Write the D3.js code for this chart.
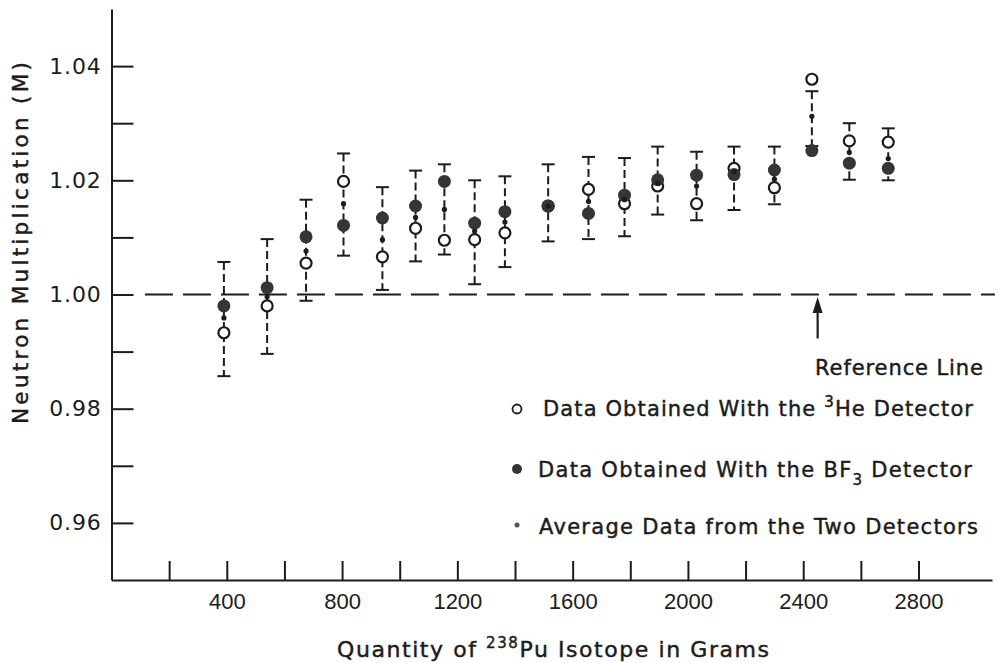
<!DOCTYPE html>
<html>
<head>
<meta charset="utf-8">
<title>Neutron Multiplication</title>
<script src="https://cdn.jsdelivr.net/npm/d3@7"></script>
<style>
  body { margin: 0; background: #fff; }
  svg { display: block; }
  .axis path, .axis line { stroke: #1c1c1c; stroke-width: 2; }
  .yaxis text { font-family: "DejaVu Sans", sans-serif; font-size: 22px; fill: #1c1c1c; letter-spacing: 0.8px; }
  .xaxis text { font-family: "Liberation Sans Narrow", "Liberation Sans", sans-serif; font-size: 22px; fill: #1c1c1c; }
  .lbl { font-family: "DejaVu Sans", sans-serif; fill: #1c1c1c; stroke: #1c1c1c; stroke-width: 0.45px; }
</style>
</head>
<body>
<div id="chart"></div>
<script>
// grams of 238Pu at each measurement
var grams = [390, 540, 675, 805, 940, 1055, 1155, 1260, 1365, 1515, 1655, 1780, 1895, 2030, 2160, 2300, 2430, 2560, 2695];
// 3He detector (open circles)
var he3 = [0.9933, 0.9980, 1.0055, 1.0198, 1.0066, 1.0116, 1.0095, 1.0096, 1.0108, 1.0155, 1.0184, 1.0159, 1.0190, 1.0159, 1.0221, 1.0187, 1.0377, 1.0269, 1.0267];
// BF3 detector (filled circles)
var bf3 = [0.9980, 1.0012, 1.0101, 1.0121, 1.0134, 1.0155, 1.0198, 1.0125, 1.0145, 1.0155, 1.0142, 1.0174, 1.0201, 1.0209, 1.0210, 1.0218, 1.0252, 1.0230, 1.0221];
// average of the two
var avg = [0.9959, 0.9996, 1.0076, 1.0159, 1.0096, 1.0135, 1.0149, 1.0111, 1.0127, 1.0155, 1.0163, 1.0166, 1.0195, 1.0190, 1.0215, 1.0202, 1.0312, 1.0249, 1.0238];
// error bar ends
var errLow = [0.9857, 0.9896, 0.9989, 1.0068, 1.0008, 1.0058, 1.0070, 1.0018, 1.0048, 1.0093, 1.0097, 1.0102, 1.0140, 1.0130, 1.0148, 1.0158, 1.0260, 1.0201, 1.0200];
var errHigh = [1.0057, 1.0097, 1.0166, 1.0247, 1.0188, 1.0217, 1.0228, 1.0200, 1.0207, 1.0228, 1.0241, 1.0239, 1.0259, 1.0250, 1.0259, 1.0259, 1.0356, 1.0300, 1.0291];

var yTickValues = [0.96, 0.97, 0.98, 0.99, 1.00, 1.01, 1.02, 1.03, 1.04];
var yTickLabels = ["0.96", "", "0.98", "", "1.00", "", "1.02", "", "1.04"];
var xTickValues = [200, 400, 600, 800, 1000, 1200, 1400, 1600, 1800, 2000, 2200, 2400, 2600, 2800];
var xTickLabels = ["", "400", "", "800", "", "1200", "", "1600", "", "2000", "", "2400", "", "2800"];

var width = 998, height = 663;

var svg = d3.select('#chart').append('svg')
    .attr('width', width)
    .attr('height', height);

var x = d3.scaleLinear().domain([0, 3055]).range([111.5, 992]);
var y = d3.scaleLinear().domain([0.95, 1.05]).range([580, 9]);

// axes
svg.append('g')
    .attr('class', 'axis yaxis')
    .attr('transform', 'translate(' + x(0) + ',0)')
    .call(d3.axisLeft(y).tickValues(yTickValues).tickSize(-22).tickSizeOuter(0).tickPadding(10)
        .tickFormat(function(d, i) { return yTickLabels[i]; }));

svg.append('g')
    .attr('class', 'axis xaxis')
    .attr('transform', 'translate(0,' + y(0.95) + ')')
    .call(d3.axisBottom(x).tickValues(xTickValues).tickSize(-19).tickSizeOuter(0).tickPadding(13)
        .tickFormat(function(d, i) { return xTickLabels[i]; }));

// reference line at M = 1
svg.append('line')
    .attr('x1', x(116)).attr('x2', x(3065))
    .attr('y1', y(1)).attr('y2', y(1))
    .attr('stroke', '#1c1c1c').attr('stroke-width', 2)
    .attr('stroke-dasharray', '28,10');

var idx = d3.range(grams.length);

// error bars
var bars = svg.append('g').attr('stroke', '#1c1c1c').attr('stroke-width', 2);
bars.selectAll('.eb').data(idx).enter().append('line')
    .attr('x1', function(i) { return x(grams[i]); })
    .attr('x2', function(i) { return x(grams[i]); })
    .attr('y1', function(i) { return y(errHigh[i]); })
    .attr('y2', function(i) { return y(errLow[i]); })
    .attr('stroke-dasharray', '8,4');
bars.selectAll('.capt').data(idx).enter().append('line')
    .attr('x1', function(i) { return x(grams[i]) - 6.5; })
    .attr('x2', function(i) { return x(grams[i]) + 6.5; })
    .attr('y1', function(i) { return y(errHigh[i]); })
    .attr('y2', function(i) { return y(errHigh[i]); });
bars.selectAll('.capb').data(idx).enter().append('line')
    .attr('x1', function(i) { return x(grams[i]) - 6.5; })
    .attr('x2', function(i) { return x(grams[i]) + 6.5; })
    .attr('y1', function(i) { return y(errLow[i]); })
    .attr('y2', function(i) { return y(errLow[i]); });

// points
svg.append('g').selectAll('circle').data(idx).enter().append('circle')
    .attr('cx', function(i) { return x(grams[i]); })
    .attr('cy', function(i) { return y(he3[i]); })
    .attr('r', 5.5)
    .attr('fill', '#fff').attr('stroke', '#1c1c1c').attr('stroke-width', 2.2);

svg.append('g').selectAll('circle').data(idx).enter().append('circle')
    .attr('cx', function(i) { return x(grams[i]); })
    .attr('cy', function(i) { return y(bf3[i]); })
    .attr('r', 6.5)
    .attr('fill', '#353535');

svg.append('g').selectAll('circle').data(idx).enter().append('circle')
    .attr('cx', function(i) { return x(grams[i]); })
    .attr('cy', function(i) { return y(avg[i]); })
    .attr('r', 2.6)
    .attr('fill', '#1c1c1c');

// arrow to the reference line
svg.append('line')
    .attr('x1', x(2450)).attr('x2', x(2450))
    .attr('y1', y(0.9923)).attr('y2', y(0.9985))
    .attr('stroke', '#1c1c1c').attr('stroke-width', 2.2);
svg.append('path')
    .attr('d', 'M' + x(2450) + ',' + y(0.99955) + 'l-5,16h10z')
    .attr('fill', '#1c1c1c');

svg.append('text').attr('class', 'lbl')
    .attr('x', 815).attr('y', 375)
    .attr('font-size', 21)
    .attr('textLength', 168).attr('lengthAdjust', 'spacing')
    .text('Reference Line');

// legend
var leg = svg.append('g');
leg.append('circle').attr('cx', 517).attr('cy', 409).attr('r', 4.5)
    .attr('fill', '#fff').attr('stroke', '#1c1c1c').attr('stroke-width', 1.8);
leg.append('circle').attr('cx', 517).attr('cy', 469).attr('r', 5)
    .attr('fill', '#353535');
leg.append('circle').attr('cx', 517).attr('cy', 525).attr('r', 2.5)
    .attr('fill', '#555');

var t1 = leg.append('text').attr('class', 'lbl').attr('x', 543).attr('y', 416)
    .attr('font-size', 21).attr('textLength', 430).attr('lengthAdjust', 'spacing');
t1.append('tspan').text('Data Obtained With the ');
t1.append('tspan').attr('font-size', 15).attr('dy', -9).text('3');
t1.append('tspan').attr('dy', 9).text('He Detector');

var t2 = leg.append('text').attr('class', 'lbl').attr('x', 538).attr('y', 477)
    .attr('font-size', 21).attr('textLength', 434).attr('lengthAdjust', 'spacing');
t2.append('tspan').text('Data Obtained With the BF');
t2.append('tspan').attr('font-size', 15).attr('dy', 8).text('3');
t2.append('tspan').attr('dy', -8).text(' Detector');

leg.append('text').attr('class', 'lbl').attr('x', 539).attr('y', 534)
    .attr('font-size', 21).attr('textLength', 439).attr('lengthAdjust', 'spacing')
    .text('Average Data from the Two Detectors');

// axis titles
svg.append('text').attr('class', 'lbl')
    .attr('transform', 'translate(28,243) rotate(-90)')
    .attr('text-anchor', 'middle')
    .attr('font-size', 21.5)
    .attr('textLength', 362).attr('lengthAdjust', 'spacing')
    .text('Neutron Multiplication (M)');

var xt = svg.append('text').attr('class', 'lbl')
    .attr('x', 553).attr('y', 657)
    .attr('text-anchor', 'middle')
    .attr('font-size', 22)
    .attr('textLength', 432).attr('lengthAdjust', 'spacing');
xt.append('tspan').text('Quantity of ');
xt.append('tspan').attr('font-size', 15).attr('dy', -9).text('238');
xt.append('tspan').attr('dy', 9).text('Pu  Isotope in Grams');
</script>
</body>
</html>
